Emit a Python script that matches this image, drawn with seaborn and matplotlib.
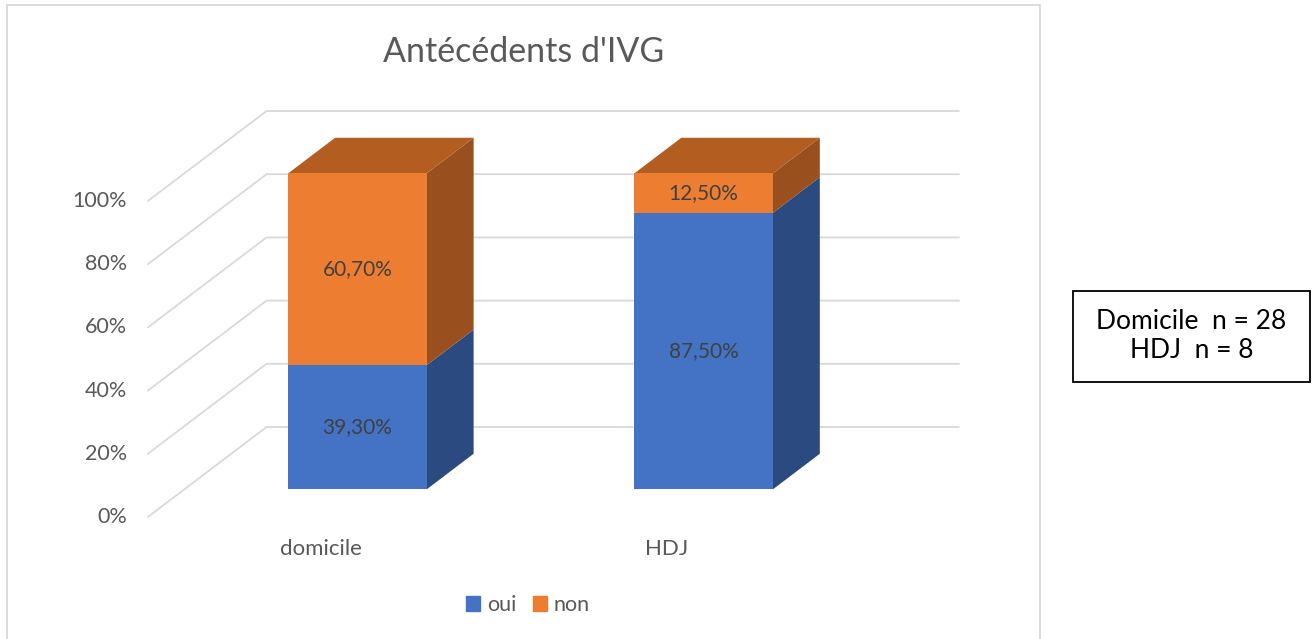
import numpy as np
import pandas as pd
import matplotlib
matplotlib.use('Agg')
import matplotlib.pyplot as plt
import seaborn as sns
from matplotlib.patches import Polygon, Rectangle, Patch
from matplotlib.lines import Line2D

categories = ['domicile', 'HDJ']
oui = [39.3, 87.5]
non = [60.7, 12.5]
oui_labels = ['39,30%', '87,50%']
non_labels = ['60,70%', '12,50%']
ticks = [0, 20, 40, 60, 80, 100]
tick_labels = ['0%', '20%', '40%', '60%', '80%', '100%']

BLUE = '#4472C4'
ORANGE = '#ED7D31'
BLUE_SIDE = '#2B4A80'
ORANGE_SIDE = '#9A4F1E'
ORANGE_TOP = '#B35D21'
GRID = '#D9D9D9'
TXT = '#595959'

# fake 3d: depth vector (floor front -> back wall) in data units
DX, DY = 0.3429, 28.48
F_BAR0, F_BAR1 = 0.308, 0.703


def shift(x, y, d):
    # d = depth from floor front (0) to back wall (1)
    return x + (d - F_BAR0) * DX, y + (d - F_BAR0) * DY


sns.set_theme(style='white')
plt.rcParams['font.family'] = ['Lato', 'DejaVu Sans']

fig = plt.figure(figsize=(13.14, 6.39), dpi=100)
ax = fig.add_axes([0, 0, 1, 1])

df = pd.DataFrame({'cat': categories, 'oui': oui, 'total': np.add(oui, non)})

# walls
for t in ticks:
    x0, y0 = shift(-0.5, t, 0)
    x1, y1 = shift(-0.5, t, 1)
    x2, y2 = shift(1.5, t, 1)
    ax.plot([x0, x1, x2], [y0, y1, y2], color=GRID, lw=1.3, zorder=0.5)

sns.barplot(data=df, x='cat', y='total', color=ORANGE, width=0.4, ax=ax,
            saturation=1, linewidth=0, zorder=3)
sns.barplot(data=df, x='cat', y='oui', color=BLUE, width=0.4, ax=ax,
            saturation=1, linewidth=0, zorder=3)

sx = (F_BAR1 - F_BAR0) * DX
sy = (F_BAR1 - F_BAR0) * DY
n = len(categories)
tot_patches = ax.patches[:n]
oui_patches = ax.patches[n:2 * n]
for i in range(n):
    pt, po = tot_patches[i], oui_patches[i]
    xl = pt.get_x()
    xr = xl + pt.get_width()
    h_tot = pt.get_height()
    h_oui = po.get_height()
    ax.add_patch(Polygon([(xr, 0), (xr + sx, sy), (xr + sx, h_oui + sy), (xr, h_oui)],
                         closed=True, fc=BLUE_SIDE, ec='none', zorder=2))
    ax.add_patch(Polygon([(xr, h_oui), (xr + sx, h_oui + sy), (xr + sx, h_tot + sy), (xr, h_tot)],
                         closed=True, fc=ORANGE_SIDE, ec='none', zorder=2))
    ax.add_patch(Polygon([(xl, h_tot), (xl + sx, h_tot + sy), (xr + sx, h_tot + sy), (xr, h_tot)],
                         closed=True, fc=ORANGE_TOP, ec='none', zorder=2))
    xc = xl + pt.get_width() / 2
    ax.text(xc, h_oui / 2, oui_labels[i], ha='center', va='center',
            fontsize=15, color='#404040', zorder=5)
    ax.text(xc, h_oui + (h_tot - h_oui) / 2, non_labels[i], ha='center', va='center',
            fontsize=15, color='#404040', zorder=5)
    cx, cy = shift(i, 0, 0)
    ax.text(cx, cy - 10, categories[i], ha='center', va='center', fontsize=16, color=TXT)

for t, lab in zip(ticks, tick_labels):
    x0, y0 = shift(-0.5, t, 0)
    ax.text(x0 - 0.06, y0, lab, ha='right', va='center', fontsize=15.5, color=TXT)

ax.set_xlim(-1.0326, 2.7629)
ax.set_ylim(-47.37, 154.84)
ax.axis('off')

fig.text(524 / 1314, 1 - 52 / 639, "Antécédents d'IVG", ha='center', va='center',
         fontsize=24.5, color=TXT)

fig.legend(handles=[Patch(color=BLUE, label='oui'), Patch(color=ORANGE, label='non')],
           loc='center', bbox_to_anchor=(528 / 1314, 1 - 605 / 639), ncol=2, frameon=False,
           handlelength=0.65, handleheight=0.65, columnspacing=0.8, handletextpad=0.3,
           fontsize=15.5, labelcolor=TXT)

# chart area border
W, H = 1314, 639
for xs, ys in [([7, 7], [5, 639]), ([7, 1040], [5, 5]), ([1040, 1040], [5, 639])]:
    fig.add_artist(Line2D([x / W for x in xs], [1 - y / H for y in ys], color=GRID, lw=1.3))

fig.add_artist(Rectangle((1073 / W, 1 - 382 / H), 237 / W, 91 / H, transform=fig.transFigure,
                         fill=False, ec='black', lw=1.3))
fig.text(1191.5 / W, 1 - 336 / H, 'Domicile  n = 28\nHDJ  n = 8', ha='center', va='center',
         fontsize=19, color='black', linespacing=1.2)

fig.savefig('out.png', dpi=100)
